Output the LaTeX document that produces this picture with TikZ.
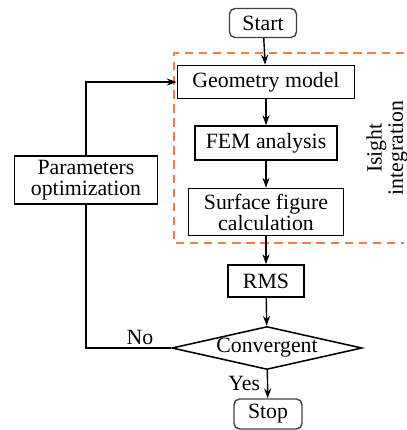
\documentclass[tikz,border=0pt]{standalone}
\usepackage{fontspec}
\setmainfont{Liberation Serif}
\usetikzlibrary{arrows.meta, shapes.geometric}
\definecolor{isightorange}{RGB}{236,128,72}

\begin{document}
\begin{tikzpicture}[x=0.025cm, y=-0.025cm, >={Stealth[length=7pt, width=5pt]},
                font=\fontsize{15.5}{15}\selectfont,
                box/.style={draw, line width=1.2pt, inner sep=0pt, align=center},
                terminal/.style={box, rounded corners=4pt, draw=black!75, line width=1pt},
                decision/.style={draw, line width=1.1pt, diamond, aspect=4.4, inner sep=0pt},
                flow/.style={->, line width=1pt}]

            \useasboundingbox (0, 0) rectangle (407, 430);

            % Isight frame
            \draw[isightorange, line width=1.1pt, dash pattern=on 6pt off 4pt] (404, 53) -- (174, 53) -- (174, 243) -- (404, 243);
            \node[rotate=90, align=center] (isight) at (387, 148) {Isight\\integration};

            \node[terminal, minimum width=1.675cm, minimum height=0.725cm] (start) at (263, 23) {Start};
            \node[box, minimum width=4.425cm, minimum height=0.825cm] (geom) at (266, 82) {Geometry model};
            \node[box, minimum width=3.55cm, minimum height=0.85cm] (fem) at (266, 143) {FEM analysis};
            \node[box, minimum width=3.875cm, minimum height=1.175cm] (surf) at (266, 212) {Surface figure\\calculation};
            \node[box, minimum width=1.9cm, minimum height=0.8cm] (rms) at (266, 281) {RMS};
            \node[decision, minimum width=4.75cm, minimum height=1.075cm] (conv) at (267, 348) {Convergent};
            \node[terminal, minimum width=1.7cm, minimum height=0.75cm] (stop) at (268, 414) {Stop};
            \node[box, minimum width=3.575cm, minimum height=1.2cm] (param) at (86, 180) {Parameters\\optimization};

            \draw[flow] (start) -- (geom);
            \draw[flow] (geom) -- (fem);
            \draw[flow] (fem) -- (surf);
            \draw[flow] (surf) -- (rms);
            \draw[flow] (rms) -- (conv);
            \draw[flow] (conv) -- (stop);
            \draw[line width=1pt] (conv.west) -| (param.south);
            \draw[flow] (param.north) |- (geom.west);

            \node[anchor=south] (no) at (140, 350) {No};
            \node[anchor=east] (yes) at (265, 383) {Yes};
        \end{tikzpicture}
\end{document}
